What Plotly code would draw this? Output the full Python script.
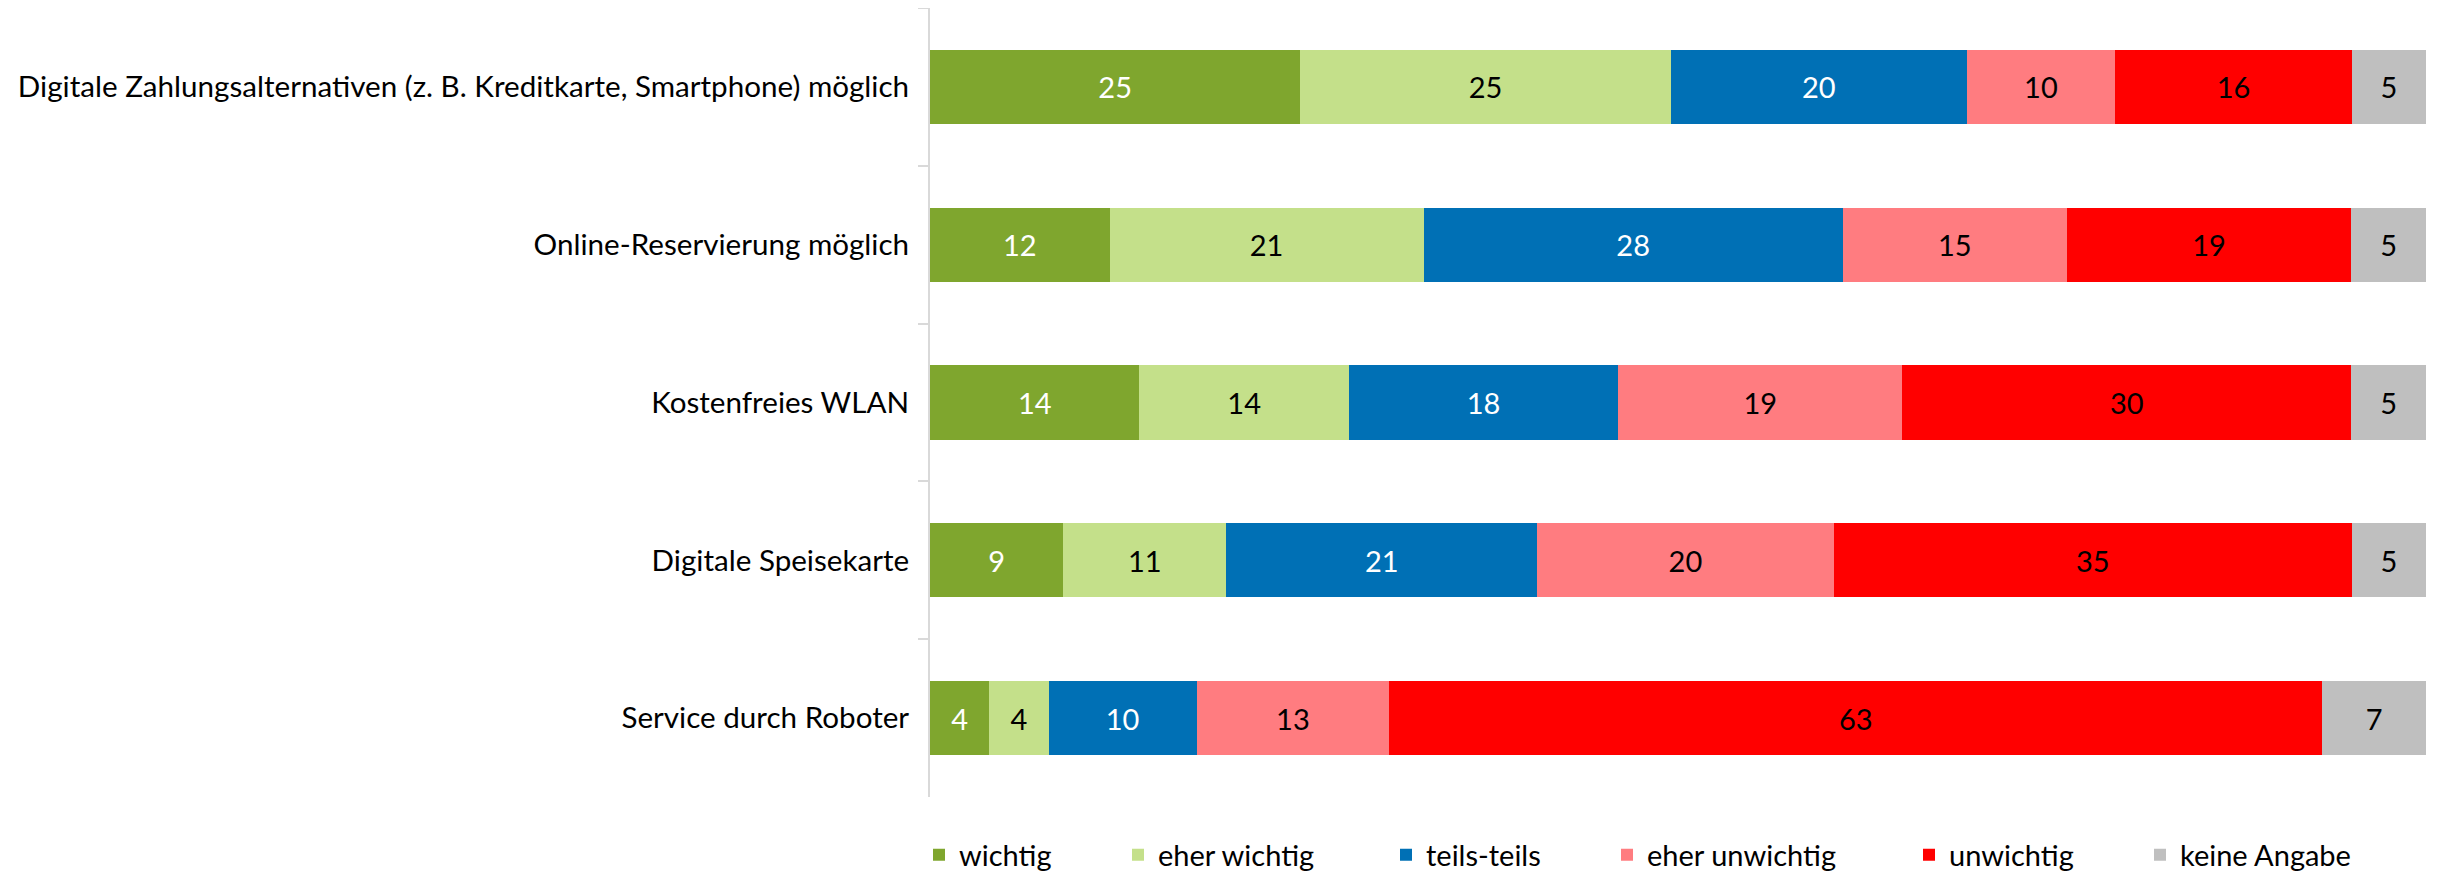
import plotly.graph_objects as go

categories = [
    "Digitale Zahlungsalternativen (z. B. Kreditkarte, Smartphone) möglich",
    "Online-Reservierung möglich",
    "Kostenfreies WLAN",
    "Digitale Speisekarte",
    "Service durch Roboter",
]

series_names = ["wichtig", "eher wichtig", "teils-teils", "eher unwichtig", "unwichtig", "keine Angabe"]
wichtig = [25, 12, 14, 9, 4]
eher_wichtig = [25, 21, 14, 11, 4]
teils_teils = [20, 28, 18, 21, 10]
eher_unwichtig = [10, 15, 19, 20, 13]
unwichtig = [16, 19, 30, 35, 63]
keine_angabe = [5, 5, 5, 5, 7]

colors = ["#7FA62E", "#C4E08A", "#0070B5", "#FF7C80", "#FF0000", "#BFBFBF"]
text_colors = ["white", "black", "white", "black", "black", "black"]

# left edge of each legend box in the picture (pixels)
legend_x = [934, 1133, 1401, 1622, 1924, 2155]

FONT = "Lato"
W, H = 2441, 875

fig = go.Figure()
for i, (name, vals, col, tcol) in enumerate(zip(
    series_names,
    [wichtig, eher_wichtig, teils_teils, eher_unwichtig, unwichtig, keine_angabe],
    colors,
    text_colors,
)):
    leg = "legend" if i == 0 else f"legend{i + 1}"
    fig.add_trace(go.Bar(
        y=categories,
        x=vals,
        name=name,
        orientation="h",
        marker=dict(color=col, line=dict(width=0)),
        width=0.47,
        text=vals,
        texttemplate="%{text}",
        textposition="inside",
        insidetextanchor="middle",
        textangle=0,
        textfont=dict(family=FONT, size=29, color=tcol),
        legend=leg,
        showlegend=True,
    ))
    fig.update_layout({leg: dict(
        xref="container", yref="container",
        x=(legend_x[i] - 23) / W, xanchor="left",
        y=1 - 847 / H, yanchor="middle",
        font=dict(family=FONT, size=29),
        itemclick=False, itemdoubleclick=False,
        bgcolor="rgba(0,0,0,0)",
    )})

fig.update_layout(
    showlegend=True,
    barmode="stack",
    barnorm="percent",
    width=W,
    height=H,
    margin=dict(l=922, r=23, t=0, b=86, autoexpand=False),
    plot_bgcolor="white",
    paper_bgcolor="white",
    font=dict(family=FONT, size=29, color="black"),
    uniformtext=dict(minsize=29, mode="show"),
    xaxis=dict(
        range=[0, 100],
        showticklabels=False,
        showgrid=False,
        zeroline=False,
        showline=False,
    ),
    yaxis=dict(
        autorange="reversed",
        showline=True,
        linecolor="#D9D9D9",
        linewidth=2,
        ticks="outside",
        tickson="boundaries",
        ticklen=10,
        tickcolor="#D9D9D9",
        tickwidth=2,
        ticklabelstandoff=13,
        showgrid=False,
        automargin=False,
        tickfont=dict(family=FONT, size=29.6),
    ),
)

fig.write_html("out.html")
